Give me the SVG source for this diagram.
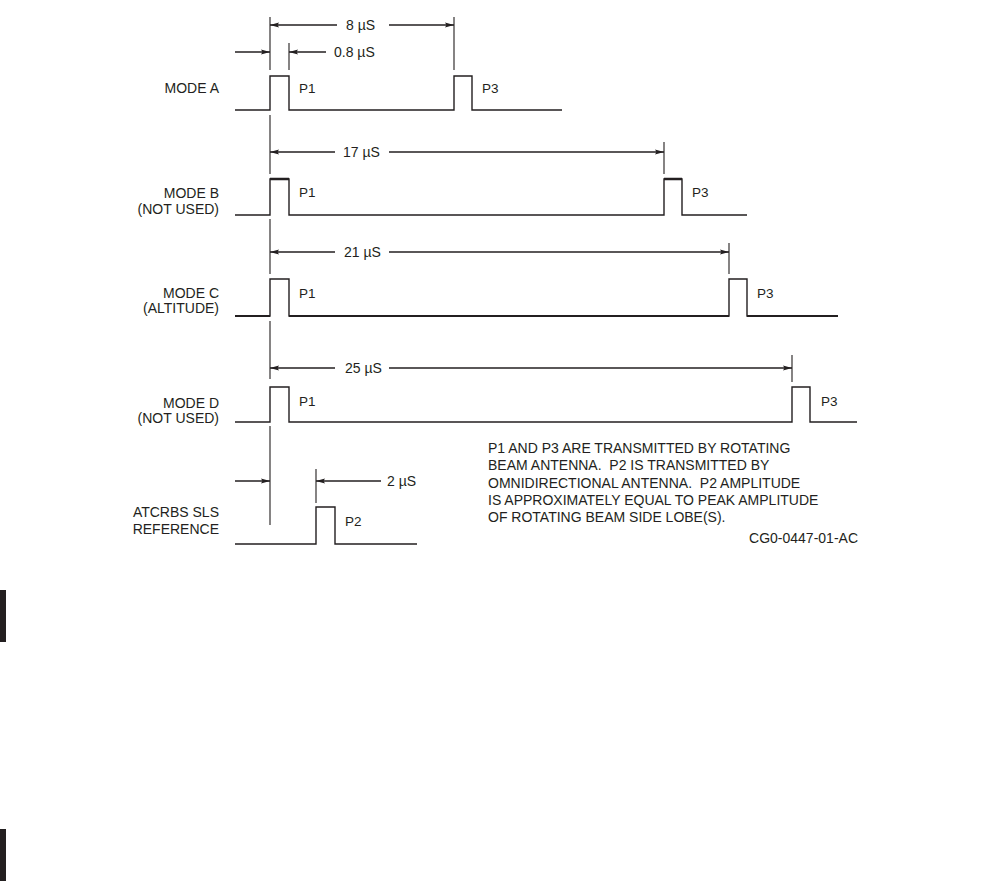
<svg xmlns="http://www.w3.org/2000/svg" width="1002" height="881" viewBox="0 0 1002 881">
<defs>
<marker id="arr" markerUnits="userSpaceOnUse" markerWidth="10" markerHeight="7" refX="9" refY="3" orient="auto-start-reverse">
<path d="M0,0.6 L9,3 L0,5.4 L1.5,3 z" fill="#231f20"/>
</marker>
<style>
.t{font-family:"Liberation Sans",Arial,sans-serif;font-size:14px;fill:#231f20;white-space:pre}
.l{text-anchor:end}
.p{font-size:13.5px}
.w{fill:none;stroke:#231f20;stroke-width:1.4}
.e{fill:none;stroke:#231f20;stroke-width:1.1}
.d{fill:none;stroke:#231f20;stroke-width:1.3}
</style>
</defs>
<rect width="1002" height="881" fill="#ffffff"/>
<rect x="0" y="590" width="6" height="52" fill="#231f20"/>
<rect x="0" y="829" width="6" height="52" fill="#231f20"/>

<g id="modeA">
<text class="t l" x="219" y="93">MODE A</text>
<path class="w" d="M235,110 H270 V76 H289 V110 H454 V76 H472 V110 H562"/>
<text class="t p" x="299" y="93">P1</text>
<text class="t p" x="482" y="93">P3</text>
</g>
<g id="modeB">
<text class="t l" x="219" y="198">MODE B</text>
<text class="t l" x="219" y="214">(NOT USED)</text>
<path class="w" d="M235,215 H270 V179 H289 V215 H664 V179 H682 V215 H747"/>
<path d="M270,179 H289 M664,179 H682" stroke="#231f20" stroke-width="2.4"/>
<text class="t p" x="299" y="197">P1</text>
<text class="t p" x="692" y="197">P3</text>
</g>
<g id="modeC">
<text class="t l" x="219" y="298">MODE C</text>
<text class="t l" x="219" y="313">(ALTITUDE)</text>
<path class="w" d="M235,316 H270 V279 H289 V316 H729 V279 H747 V316 H838"/>
<path d="M235,316 H270 M289,316 H729 M747,316 H838" stroke="#231f20" stroke-width="2.2"/>
<text class="t p" x="299" y="298">P1</text>
<text class="t p" x="757" y="298">P3</text>
</g>
<g id="modeD">
<text class="t l" x="219" y="408">MODE D</text>
<text class="t l" x="219" y="423">(NOT USED)</text>
<path class="w" d="M235,422 H270 V387 H289 V422 H792 V387 H810 V422 H857"/>
<text class="t p" x="299" y="406">P1</text>
<text class="t p" x="821" y="406">P3</text>
</g>
<g id="sls">
<text class="t l" x="219" y="517">ATCRBS SLS</text>
<text class="t l" x="219" y="534">REFERENCE</text>
<path class="w" d="M235,544 H316 V507 H335 V544 H417"/>
<text class="t p" x="345" y="526">P2</text>
</g>
<g id="note">
<text class="t" x="488" y="453">P1 AND P3 ARE TRANSMITTED BY ROTATING</text>
<text class="t" x="488" y="470">BEAM ANTENNA.  P2 IS TRANSMITTED BY</text>
<text class="t" x="488" y="487.5">OMNIDIRECTIONAL ANTENNA.  P2 AMPLITUDE</text>
<text class="t" x="488" y="505">IS APPROXIMATELY EQUAL TO PEAK AMPLITUDE</text>
<text class="t" x="488" y="522">OF ROTATING BEAM SIDE LOBE(S).</text>
<text class="t" x="858" y="543" text-anchor="end" font-size="13">CG0-0447-01-AC</text>
</g>

<g id="connectors">
<path class="e" d="M270,17 V70 M454,17 V70 M289,43 V70 M270,115 V174 M664,142 V174 M270,219 V274 M729,243 V274 M270,321 V379 M792,355 V382 M270,426 V525 M316,469 V503"/>
<path class="d" d="M337,25 H270" marker-end="url(#arr)"/>
<path class="d" d="M389,25 H454" marker-end="url(#arr)"/>
<text class="t" x="346" y="30">8 µS</text>
<path class="d" d="M235,52 H270" marker-end="url(#arr)"/>
<path class="d" d="M326,52 H289" marker-end="url(#arr)"/>
<text class="t" x="334" y="57">0.8 µS</text>
<path class="d" d="M335,152 H270" marker-end="url(#arr)"/>
<path class="d" d="M389,152 H664" marker-end="url(#arr)"/>
<text class="t" x="343" y="157">17 µS</text>
<path class="d" d="M335,252 H270" marker-end="url(#arr)" stroke-width="1.8"/>
<path class="d" d="M389,252 H729" marker-end="url(#arr)" stroke-width="1.8"/>
<text class="t" x="344" y="257">21 µS</text>
<path class="d" d="M335,368 H270" marker-end="url(#arr)" stroke-width="1.8"/>
<path class="d" d="M389,368 H792" marker-end="url(#arr)" stroke-width="1.8"/>
<text class="t" x="345" y="373">25 µS</text>
<path class="d" d="M235,481 H270" marker-end="url(#arr)"/>
<path class="d" d="M381,481 H316" marker-end="url(#arr)"/>
<text class="t" x="387" y="486">2 µS</text>
</g>
</svg>
